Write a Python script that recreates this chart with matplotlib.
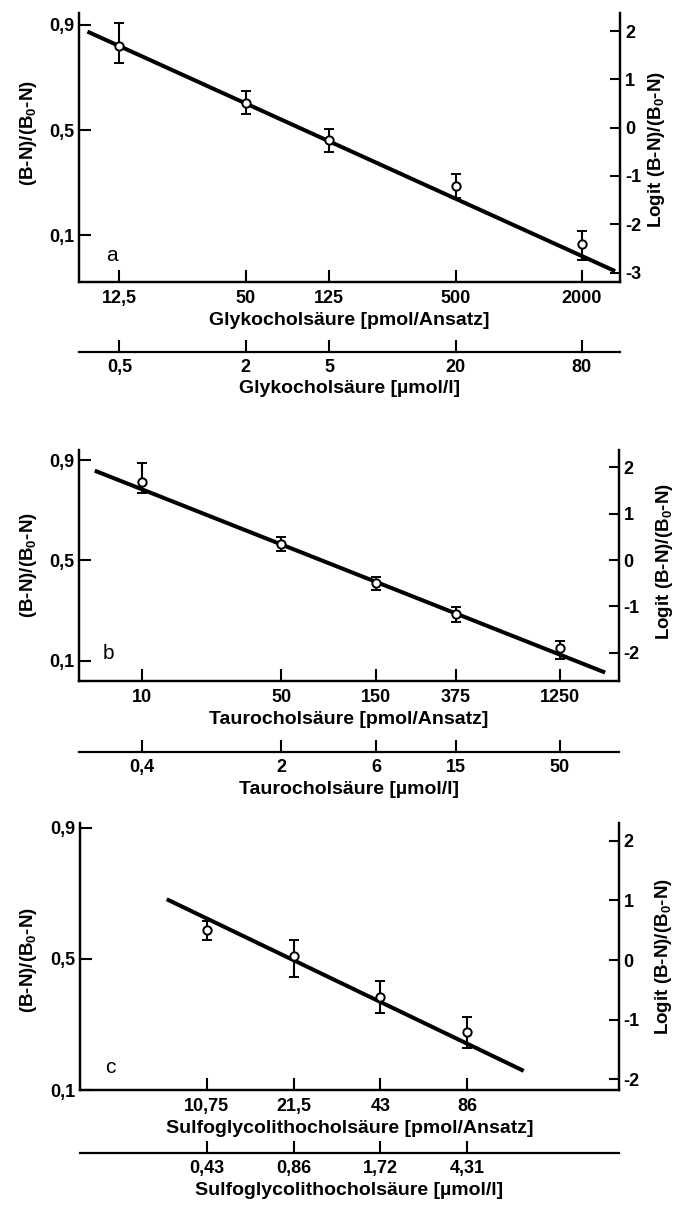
import matplotlib
matplotlib.use("Agg")
import matplotlib.pyplot as plt
from matplotlib.ticker import NullLocator, FixedLocator, FixedFormatter

plt.rcParams['font.family'] = ['Liberation Sans', 'DejaVu Sans']
plt.rcParams['font.weight'] = 'bold'
plt.rcParams['axes.labelweight'] = 'bold'
plt.rcParams['mathtext.default'] = 'regular'
plt.rcParams['axes.unicode_minus'] = False

# ---------------- data ----------------
# Panel a: Glykocholsäure
a_pmol = [12.5, 50, 125, 500, 2000]
a_pmol_labels = ['12,5', '50', '125', '500', '2000']
a_umol_labels = ['0,5', '2', '5', '20', '80']
a_logit = [1.69, 0.52, -0.26, -1.21, -2.41]
a_err_lo = [0.36, 0.23, 0.25, 0.25, 0.33]
a_err_hi = [0.47, 0.25, 0.23, 0.25, 0.28]
a_fit_pmol = [8.8, 2880]
a_fit_logit = [1.99, -2.97]

# Panel b: Taurocholsäure
b_pmol = [10, 50, 150, 375, 1250]
b_pmol_labels = ['10', '50', '150', '375', '1250']
b_umol_labels = ['0,4', '2', '6', '15', '50']
b_logit = [1.69, 0.34, -0.50, -1.17, -1.91]
b_err_lo = [0.25, 0.15, 0.14, 0.17, 0.22]
b_err_hi = [0.40, 0.15, 0.14, 0.16, 0.16]
b_fit_pmol = [5.8, 2110]
b_fit_logit = [1.93, -2.43]

# Panel c: Sulfoglycolithocholsäure
c_pmol = [10.75, 21.5, 43, 86]
c_pmol_labels = ['10,75', '21,5', '43', '86']
c_umol_labels = ['0,43', '0,86', '1,72', '4,31']
c_logit = [0.50, 0.06, -0.62, -1.20]
c_err_lo = [0.17, 0.34, 0.27, 0.27]
c_err_hi = [0.15, 0.28, 0.27, 0.24]
c_fit_pmol = [7.8, 135]
c_fit_logit = [1.02, -1.86]

left_ticks = [0.9, 0.5, 0.1]
left_tick_labels = ['0,9', '0,5', '0,1']

FS_TICK = 13
FS_LABEL = 14
LW_SPINE = 1.6
TICK_LEN = 8.5
TICK_W = 1.5

fig = plt.figure(figsize=(6.82, 12.11), dpi=100)


def panel(rect, xlim, ylim_left, ylim_logit, logit_ticks, pmol, pmol_labels,
          umol_labels, logit, err_lo, err_hi, fit_x, fit_y, sec_loc,
          xlabel, xlabel2, letter, letter_pos, ylab_pos, ylab2_pos):
    ax = fig.add_axes(rect)
    ax.set_xscale('log')
    ax.set_xlim(*xlim)
    ax.set_ylim(*ylim_left)
    ax.spines['top'].set_visible(False)
    for s in ('left', 'bottom', 'right'):
        ax.spines[s].set_linewidth(LW_SPINE)
    ax.xaxis.set_major_locator(FixedLocator(pmol))
    ax.xaxis.set_major_formatter(FixedFormatter(pmol_labels))
    ax.xaxis.set_minor_locator(NullLocator())
    ax.yaxis.set_major_locator(FixedLocator(left_ticks))
    ax.yaxis.set_major_formatter(FixedFormatter(left_tick_labels))
    ax.tick_params(axis='x', direction='in', length=TICK_LEN, width=TICK_W,
                   pad=5.5, labelsize=FS_TICK)
    ax.tick_params(axis='y', direction='in', length=TICK_LEN, width=TICK_W,
                   pad=3, labelsize=FS_TICK)
    ax.set_xlabel(xlabel, fontsize=FS_LABEL, labelpad=4)

    ax2 = ax.twinx()
    ax2.set_ylim(*ylim_logit)
    ax2.spines['top'].set_visible(False)
    for s in ('left', 'bottom', 'right'):
        ax2.spines[s].set_linewidth(LW_SPINE)
    ax2.set_yticks(logit_ticks)
    ax2.set_yticklabels([str(t) for t in logit_ticks])
    ax2.tick_params(axis='y', direction='in', length=7, width=TICK_W,
                    pad=3.5, labelsize=FS_TICK)

    ax2.plot(fit_x, fit_y, color='black', lw=2.9, solid_capstyle='butt',
             zorder=2)
    ax2.errorbar(pmol, logit, yerr=[err_lo, err_hi], fmt='o', ms=6,
                 mfc='white', mec='black', mew=1.4, ecolor='black',
                 elinewidth=1.5, capsize=3.3, capthick=1.5, zorder=3)

    sec = ax.secondary_xaxis(sec_loc)
    sec.set_xticks(pmol)
    sec.set_xticklabels(umol_labels)
    sec.xaxis.set_minor_locator(NullLocator())
    sec.spines['bottom'].set_linewidth(LW_SPINE)
    sec.tick_params(axis='x', direction='in', length=TICK_LEN, width=TICK_W,
                    pad=5.5, labelsize=FS_TICK)
    sec.set_xlabel(xlabel2, fontsize=FS_LABEL, labelpad=3)

    fig.text(letter_pos[0], letter_pos[1], letter, fontsize=15,
             fontweight='normal', ha='center', va='center')
    fig.text(ylab_pos[0], ylab_pos[1], '(B-N)/(B$_0$-N)', rotation=90,
             ha='center', va='center', fontsize=FS_LABEL - 0.5)
    fig.text(ylab2_pos[0], ylab2_pos[1], 'Logit (B-N)/(B$_0$-N)', rotation=90,
             ha='center', va='center', fontsize=FS_LABEL - 0.5)
    return ax


panel([0.11584, 0.76714, 0.79370, 0.22188], (8.02, 3048), (-0.0776, 0.9445),
      (-3.195, 2.369), [-3, -2, -1, 0, 1, 2], a_pmol, a_pmol_labels,
      a_umol_labels, a_logit, a_err_lo, a_err_hi, a_fit_pmol, a_fit_logit,
      -0.2594, 'Glykocholsäure [pmol/Ansatz]', 'Glykocholsäure [µmol/l]',
      'a', (0.1638, 0.7894), (0.0411, 0.8902), (0.9633, 0.8761))

panel([0.11584, 0.43765, 0.79135, 0.19075], (4.834, 2468), (0.0191, 0.9399),
      (-2.613, 2.376), [-2, -1, 0, 1, 2], b_pmol, b_pmol_labels,
      b_umol_labels, b_logit, b_err_lo, b_err_hi, b_fit_pmol, b_fit_logit,
      -0.3061, 'Taurocholsäure [pmol/Ansatz]', 'Taurocholsäure [µmol/l]',
      'b', (0.1588, 0.4605), (0.0411, 0.5334), (0.975, 0.5362))

panel([0.1173, 0.09967, 0.78988, 0.22097], (3.902, 288.3), (0.1, 0.9152),
      (-2.186, 2.304), [-2, -1, 0, 1, 2], c_pmol, c_pmol_labels,
      c_umol_labels, c_logit, c_err_lo, c_err_hi, c_fit_pmol, c_fit_logit,
      -0.2332, 'Sulfoglycolithocholsäure [pmol/Ansatz]',
      'Sulfoglycolithocholsäure [µmol/l]',
      'c', (0.1613, 0.1183), (0.0411, 0.2073), (0.9732, 0.2097))

fig.savefig('out.png', dpi=100)
